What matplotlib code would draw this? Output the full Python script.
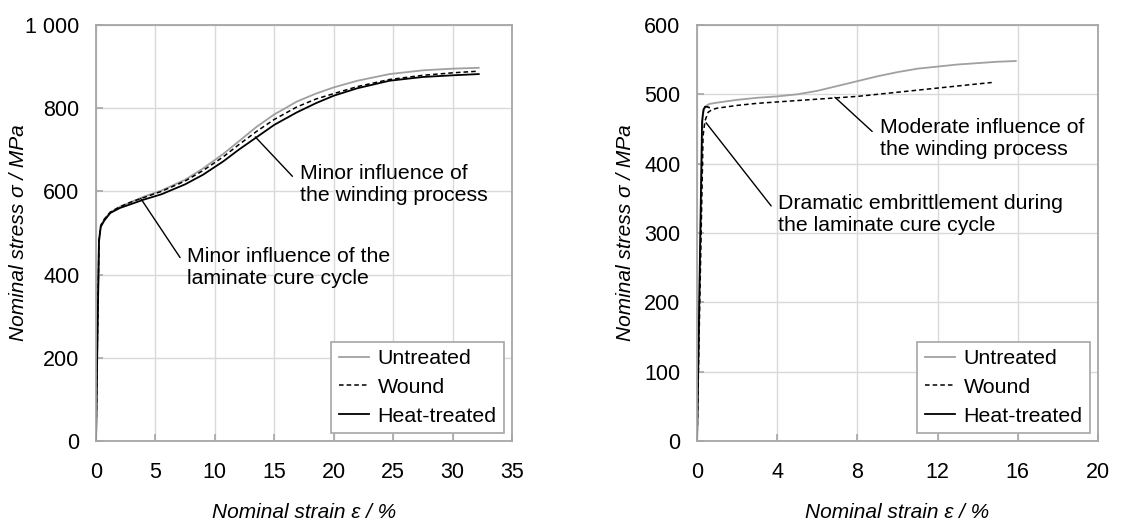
import matplotlib
matplotlib.use("Agg")
import matplotlib.pyplot as plt
from matplotlib.ticker import FixedLocator, FixedFormatter

plt.rcParams['font.family'] = ['Liberation Sans', 'DejaVu Sans']
plt.rcParams['font.size'] = 15

# left panel: stress-strain curves (strain %, stress MPa)
left_untreated_x = [0, 0.12, 0.25, 0.4, 0.7, 1.2, 2, 3, 4, 5.5, 7.5, 9, 10.7, 12, 13.5, 15, 16.9, 18.5, 20, 22, 24.7, 27.5, 30, 32.2]
left_untreated_y = [0, 250, 485, 518, 533, 550, 563, 575, 587, 602, 628, 655, 690, 720, 755, 785, 816, 835, 850, 866, 882, 891, 895, 897]
left_wound_x = left_untreated_x
left_wound_y = [0, 250, 483, 518, 533, 550, 563, 575, 585, 600, 625, 650, 683, 712, 744, 773, 803, 822, 835, 852, 869, 879, 885, 889]
left_heat_x = left_untreated_x
left_heat_y = [0, 250, 480, 515, 530, 548, 560, 570, 580, 593, 617, 640, 672, 700, 730, 760, 790, 812, 830, 848, 866, 875, 879, 882]

# right panel
right_untreated_x = [0, 0.28, 0.4, 0.6, 1.0, 2, 3, 4, 5, 6, 7, 8, 9, 10, 11, 12, 13, 14, 15, 15.9]
right_untreated_y = [0, 470, 482, 486, 488, 492, 495, 497, 500, 505, 512, 519, 526, 532, 537, 540, 543, 545, 547, 548]
right_wound_x = [0, 0.3, 0.4, 0.55, 0.75, 1.0, 2, 3, 4, 5, 6, 7, 8, 9, 10, 11, 12, 13, 14, 14.7]
right_wound_y = [0, 440, 462, 474, 478, 480, 484, 487, 489, 491, 493, 495, 497, 500, 503, 506, 509, 512, 515, 517]
right_heat_x = [0, 0.25, 0.32, 0.4, 0.5, 0.6]
right_heat_y = [0, 460, 478, 482, 482, 481]

left_xticks = [0, 5, 10, 15, 20, 25, 30, 35]
left_yticks = [0, 200, 400, 600, 800, 1000]
left_ylabels = ['0', '200', '400', '600', '800', '1 000']
right_xticks = [0, 4, 8, 12, 16, 20]
right_yticks = [0, 100, 200, 300, 400, 500, 600]

labels = ['Untreated', 'Wound', 'Heat-treated']

fig = plt.figure(figsize=(11.31, 5.27), dpi=100)
ax1 = fig.add_axes([0.0849, 0.1632, 0.3678, 0.7894])
ax2 = fig.add_axes([0.6163, 0.1632, 0.3545, 0.7894])

spine_c = '#a6a6a6'
grid_c = '#d9d9d9'


def style(ax, xt, yt, ylab):
    ax.set_xlim(xt[0], xt[-1])
    ax.set_ylim(yt[0], yt[-1])
    ax.xaxis.set_major_locator(FixedLocator(xt))
    ax.yaxis.set_major_locator(FixedLocator(yt))
    ax.yaxis.set_major_formatter(FixedFormatter(ylab))
    ax.grid(True, color=grid_c, lw=1)
    ax.set_axisbelow(True)
    for s in ax.spines.values():
        s.set_color(spine_c)
        s.set_linewidth(1.3)
    ax.tick_params(axis='both', direction='in', length=5, color=spine_c, width=1.2, labelsize=15.5)
    ax.tick_params(axis='x', pad=15)
    ax.tick_params(axis='y', pad=12)
    ax.set_xlabel('Nominal strain ε / %', style='italic', fontsize=15)
    ax.set_ylabel('Nominal stress σ / MPa', style='italic', fontsize=15)
    ax.xaxis.set_label_coords(0.5, -0.149)


style(ax1, left_xticks, left_yticks, left_ylabels)
style(ax2, right_xticks, right_yticks, [str(v) for v in right_yticks])
ax1.yaxis.set_label_coords(-0.163, 0.5)
ax2.yaxis.set_label_coords(-0.155, 0.5)

for ax, data in [(ax1, (left_untreated_x, left_untreated_y, left_wound_x, left_wound_y, left_heat_x, left_heat_y)),
                 (ax2, (right_untreated_x, right_untreated_y, right_wound_x, right_wound_y, right_heat_x, right_heat_y))]:
    ux, uy, wx, wy, hx, hy = data
    ax.plot(ux, uy, color='#a0a0a0', lw=1.3, label=labels[0])
    ax.plot(wx, wy, color='black', lw=1.1, ls=(0, (3, 2)), label=labels[1])
    ax.plot(hx, hy, color='black', lw=1.3, label=labels[2])
    leg = ax.legend(loc='lower right', fontsize=15.4, fancybox=False, framealpha=1,
                    edgecolor=spine_c, handlelength=1.4, handletextpad=0.4,
                    labelspacing=0.45, borderaxespad=0.37, borderpad=0.35)
    leg.get_frame().set_linewidth(1.2)

arrow = dict(arrowstyle='-', color='black', lw=1, relpos=(0, 0.5), shrinkA=5, shrinkB=0)
ax1.annotate('Minor influence of\nthe winding process', xy=(13.4, 731), xytext=(17.16, 617),
             ha='left', va='center', fontsize=15.3, arrowprops=arrow)
ax1.annotate('Minor influence of the\nlaminate cure cycle', xy=(3.76, 583), xytext=(7.63, 417),
             ha='left', va='center', fontsize=15.3, arrowprops=arrow)
ax2.annotate('Moderate influence of\nthe winding process', xy=(6.88, 495.7), xytext=(9.13, 436),
             ha='left', va='center', fontsize=15.3, arrowprops=arrow)
ax2.annotate('Dramatic embrittlement during\nthe laminate cure cycle', xy=(0.45, 459), xytext=(4.05, 326),
             ha='left', va='center', fontsize=15.3, arrowprops=arrow)

fig.savefig('out.png', dpi=100)
